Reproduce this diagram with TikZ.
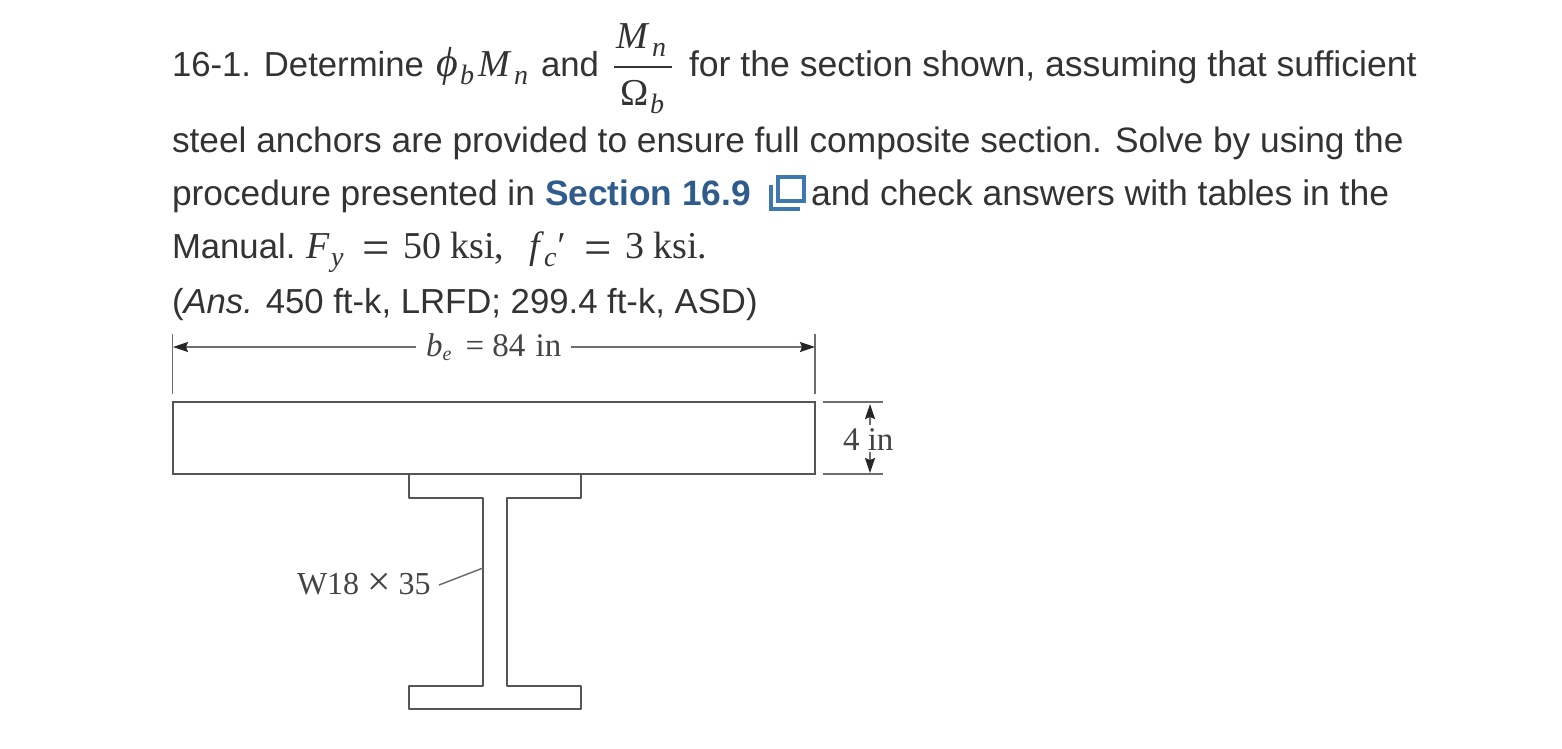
\documentclass[tikz,border=0pt]{standalone}
\usepackage{graphicx}
\usepackage{fontspec}
\setmainfont{Liberation Sans}
\newfontfamily\mathserif{Liberation Serif}
\usetikzlibrary{arrows.meta}
\definecolor{txt}{HTML}{333333}
\definecolor{linkblue}{HTML}{2F5C8C}
\definecolor{iconblue}{HTML}{3F78AE}
\definecolor{draft}{HTML}{555555}
\definecolor{figtxt}{HTML}{444444}
\newcommand{\sz}[1]{\fontsize{#1}{#1}\selectfont}
\newcommand{\wideeq}{\raisebox{-6pt}{\scalebox{1.28}[1.3]{=}}}
\tikzset{
  base/.style={inner sep=0pt,outer sep=0pt,anchor=base west,text=txt},
  body/.style={base,font=\sz{35.3}},
  mth/.style={base,font=\mathserif\itshape\sz{38}},
  mrm/.style={base,font=\mathserif\sz{38}},
  msub/.style={base,font=\mathserif\itshape\sz{28}},
  fig/.style={base,text=figtxt,font=\mathserif\sz{33}},
  figline/.style={draw=draft,line width=2pt},
  thin line/.style={draw=draft!85,line width=1.5pt},
  dimarrow/.style={draw=draft!85,line width=1.5pt,-{Stealth[length=15pt,width=10pt,inset=2pt,color=black!85]}},
}
\begin{document}
\begin{tikzpicture}[x=1pt,y=-1pt]
\useasboundingbox[fill=white] (0,0) rectangle (1562,748);
% line 1
\node[body,font=\sz{34.7}] (t1) at (172,76) {16-1. Determine};
\node[mth,font=\mathserif\itshape\sz{42}] (phi) at (436,76) {ϕ};
\node[msub] (phib) at (460,84) {b};
\node[mth] (M1) at (478,76) {M};
\node[msub] (M1n) at (514,84) {n};
\node[body,font=\sz{34.7}] (and) at (541,76) {and};
\node[mth] (M2) at (616,48) {M};
\node[msub] (M2n) at (652,56) {n};
\coordinate (barL) at (614,67);
\coordinate (barR) at (672,67);
\draw[draw=txt,line width=1.5pt] (barL) -- (barR);
\node[mrm] (Om) at (620,105) {Ω};
\node[msub] (Omb) at (650,113) {b};
\node[body,font=\sz{35.6}] (t1b) at (689,76) {for the section shown, assuming that sufficient};
% line 2
\node[body] (t2) at (172,152) {steel anchors are provided to ensure full composite section. Solve by using the};
% line 3
\node[body] (t3) at (172,205) {procedure presented in};
\node[body,text=linkblue,font=\bfseries\sz{35.3}] (sec) at (545,205) {Section 16.9};
\coordinate (icA) at (778,177);
\coordinate (icB) at (804,201);
\coordinate (icC) at (771,185);
\coordinate (icD) at (771,209);
\coordinate (icE) at (800,209);
\draw[draw=iconblue,line width=3.5pt] (icA) rectangle (icB);
\draw[draw=iconblue,line width=3.5pt] (icC) -- (icD) -- (icE);
\node[body,font=\sz{35.5}] (t3b) at (811,205) {and check answers with tables in the};
% line 4
\node[body,font=\sz{34.7}] (t4) at (172,258) {Manual.};
\node[mth] (F) at (306,258) {F};
\node[msub] (Fy) at (331,266) {y};
\node[mrm] (eq1) at (362,258) {\wideeq};
\node[mrm] (v1) at (403,258) {50 ksi,};
\node[mth] (f) at (529,258) {f};
\node[msub] (fc) at (544,266) {c};
\node[mth] (pr) at (555,258) {′};
\node[mrm] (eq2) at (584,258) {\wideeq};
\node[mrm] (v2) at (625,258) {3 ksi.};
% line 5
\node[body,font=\sz{34.7}] (t5) at (172,313) {(\textit{Ans.} 450 ft-k, LRFD; 299.4 ft-k, ASD)};
% figure
\coordinate (extLt) at (172.7,334);
\coordinate (extLb) at (172.7,394);
\coordinate (extRt) at (815,334);
\coordinate (extRb) at (815,394);
\coordinate (dimL) at (173,347);
\coordinate (dimR) at (815,347);
\coordinate (dimLe) at (416,347);
\coordinate (dimRs) at (571,347);
\draw[thin line] (extLt) -- (extLb);
\draw[thin line] (extRt) -- (extRb);
\draw[dimarrow] (dimLe) -- (dimL);
\draw[dimarrow] (dimRs) -- (dimR);
\node[fig] (be) at (426,356) {\textit{b}\raisebox{-4pt}{\textit{\sz{20}e}}\hspace{6pt} = 84\hspace{2pt} in};
\coordinate (sTL) at (172.7,402);
\coordinate (sBR) at (815,474);
\draw[figline] (sTL) rectangle (sBR);
\coordinate (tickTa) at (823,402);
\coordinate (tickTb) at (883,402);
\coordinate (tickBa) at (823,474);
\coordinate (tickBb) at (883,474);
\draw[thin line] (tickTa) -- (tickTb);
\draw[thin line] (tickBa) -- (tickBb);
\coordinate (upTip) at (870,404);
\coordinate (upEnd) at (870,425);
\coordinate (dnTip) at (870,473);
\coordinate (dnEnd) at (870,452);
\draw[dimarrow] (upEnd) -- (upTip);
\draw[dimarrow] (dnEnd) -- (dnTip);
\node[fig] (four) at (843,450) {4 in};
\coordinate (a1) at (409,474);
\coordinate (a2) at (409,498);
\coordinate (a3) at (483,498);
\coordinate (a4) at (483,686);
\coordinate (a5) at (409,686);
\coordinate (a6) at (409,709);
\coordinate (a7) at (581,709);
\coordinate (a8) at (581,686);
\coordinate (a9) at (507,686);
\coordinate (a10) at (507,498);
\coordinate (a11) at (581,498);
\coordinate (a12) at (581,474);
\draw[figline,line join=round] (a1) -- (a2) -- (a3) -- (a4) -- (a5) -- (a6) -- (a7) -- (a8) -- (a9) -- (a10) -- (a11) -- (a12);
\node[fig,font=\mathserif\sz{32}] (w) at (297,594) {W18 \raisebox{-1pt}{\scalebox{1.3}{×}} 35};
\coordinate (lead) at (439,585);
\coordinate (leadE) at (483,568);
\draw[thin line] (lead) -- (leadE);
\end{tikzpicture}
\end{document}
